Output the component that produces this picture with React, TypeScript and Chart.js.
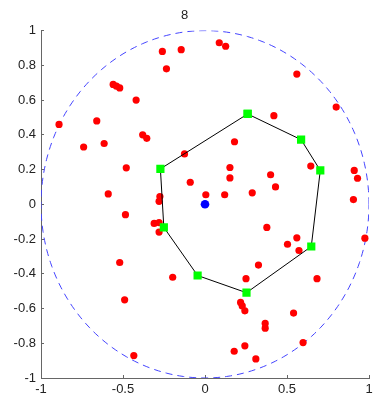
import React, { useEffect, useRef } from "react";
import { Chart, registerables } from "chart.js";

Chart.register(...registerables);

const TITLE = "8";

const redX = [
  -0.89, -0.66, -0.56, -0.54, -0.52, -0.42, -0.26, -0.235, -0.145, 0.087,
  0.126, 0.56, 0.8, 0.42, 0.18, -0.38, -0.355, -0.74, -0.615, -0.48,
  -0.59, -0.485, -0.125, -0.275, -0.28, -0.31, -0.28, -0.28, -0.09, 0.005,
  0.12, 0.152, 0.152, 0.288, 0.4, 0.43, 0.645, 0.91, 0.93, 0.905,
  0.975, 0.377, 0.56, 0.503, 0.573, -0.52, 0.326, -0.197, 0.25, 0.683,
  -0.49, 0.217, 0.227, 0.243, 0.54, 0.367, 0.367, 0.598, 0.243, 0.178,
  0.31, -0.434,
];
const redY = [
  0.46, 0.48, 0.69, 0.68, 0.67, 0.6, 0.88, 0.78, 0.89, 0.93,
  0.91, 0.75, 0.56, 0.51, 0.36, 0.4, 0.38, 0.33, 0.35, 0.21,
  0.06, -0.06, 0.29, 0.045, 0.017, -0.11, -0.105, -0.16, 0.127, 0.055,
  0.055, 0.212, 0.152, 0.066, 0.17, 0.1, 0.22, 0.195, 0.15, 0.027,
  -0.195, -0.133, -0.193, -0.23, -0.266, -0.335, -0.35, -0.42, -0.428, -0.428,
  -0.55, -0.565, -0.585, -0.613, -0.626, -0.686, -0.713, -0.796, -0.815, -0.846,
  -0.89, -0.871,
];

const hullX = [0.26, 0.586, 0.703, 0.648, 0.253, -0.045, -0.251, -0.272];
const hullY = [0.52, 0.372, 0.195, -0.243, -0.509, -0.41, -0.133, 0.204];

const centerX = [0];
const centerY = [0];

const CIRCLE_RADIUS = 1;
const CIRCLE_STEPS = 240;

const xTicks = [-1, -0.5, 0, 0.5, 1];
const yTicks = [-1, -0.8, -0.6, -0.4, -0.2, 0, 0.2, 0.4, 0.6, 0.8, 1];

const fmt = (v: number) => String(Math.round(Number(v) * 10) / 10);

export default function App() {
  const ref = useRef<HTMLCanvasElement | null>(null);

  useEffect(() => {
    if (!ref.current) return;
    const red = redX.map((x, i) => ({ x, y: redY[i] }));
    const hull = hullX.map((x, i) => ({ x, y: hullY[i] }));
    hull.push({ x: hullX[0], y: hullY[0] });
    const center = centerX.map((x, i) => ({ x, y: centerY[i] }));
    const circle: { x: number; y: number }[] = [];
    for (let i = 0; i <= CIRCLE_STEPS; i++) {
      const a = (i / CIRCLE_STEPS) * Math.PI * 2;
      circle.push({ x: CIRCLE_RADIUS * Math.cos(a), y: CIRCLE_RADIUS * Math.sin(a) });
    }
    const font = { family: "'Liberation Sans', Arial, sans-serif", size: 13 };
    const chart = new Chart(ref.current, {
      type: "scatter",
      data: {
        datasets: [
          {
            type: "line",
            data: hull,
            order: 1,
            borderColor: "#000000",
            borderWidth: 1,
            pointStyle: "rect",
            pointRadius: 5.8,
            pointBackgroundColor: "#00ff00",
            pointBorderColor: "#00ff00",
            pointBorderWidth: 0,
            showLine: true,
            tension: 0,
            fill: false,
          } as any,
          {
            data: center,
            order: 2,
            pointRadius: 4.3,
            pointBackgroundColor: "#0000ff",
            pointBorderWidth: 0,
          },
          {
            data: red,
            order: 3,
            pointRadius: 3.6,
            pointBackgroundColor: "#ff0000",
            pointBorderWidth: 0,
          },
          {
            type: "line",
            data: circle,
            order: 4,
            borderColor: "#4444ff",
            borderWidth: 1,
            borderDash: [7, 5],
            pointRadius: 0,
            showLine: true,
            tension: 0,
            fill: false,
          } as any,
        ],
      },
      options: {
        responsive: false,
        animation: false,
        events: [],
        layout: { padding: { left: 0, right: 13, top: 0, bottom: 0 } },
        plugins: {
          legend: { display: false },
          tooltip: { enabled: false },
          title: {
            display: true,
            text: TITLE,
            color: "#222222",
            font: { ...font, weight: "normal" },
            padding: { top: 8, bottom: 7 },
          },
        },
        scales: {
          x: {
            type: "linear",
            min: -1,
            max: 1,
            afterFit: (s: any) => {
              s.height = 24;
            },
            afterBuildTicks: (s: any) => {
              s.ticks = xTicks.map((v) => ({ value: v }));
            },
            ticks: { color: "#222222", font, padding: 7, maxRotation: 0, callback: (v: any) => fmt(v) },
            grid: {
              drawOnChartArea: false,
              drawTicks: true,
              tickLength: -3,
              color: "#666666",
            },
            border: { display: true, color: "#666666", width: 1 },
          },
          y: {
            type: "linear",
            min: -1,
            max: 1,
            afterFit: (s: any) => {
              s.width = 41;
            },
            afterBuildTicks: (s: any) => {
              s.ticks = yTicks.map((v) => ({ value: v }));
            },
            ticks: { color: "#222222", font, padding: 8, callback: (v: any) => fmt(v) },
            grid: {
              drawOnChartArea: false,
              drawTicks: true,
              tickLength: -3,
              color: "#666666",
            },
            border: { display: true, color: "#666666", width: 1 },
          },
        },
      },
    });
    return () => chart.destroy();
  }, []);

  return (
    <div style={{ position: "fixed", left: 0, top: 0, width: 382, height: 402, background: "#ffffff" }}>
      <canvas ref={ref} width={382} height={402} style={{ display: "block" }} />
    </div>
  );
}
